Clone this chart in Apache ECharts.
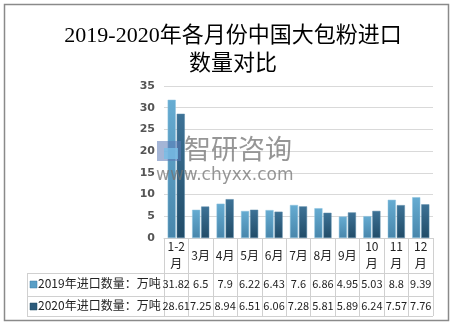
<!DOCTYPE html>
<html><head><meta charset="utf-8">
<script src="https://cdn.jsdelivr.net/npm/echarts@6/dist/echarts.min.js"></script>
<style>html,body{margin:0;padding:0;background:#fff}#c{width:452px;height:326px}</style>
</head><body><div id="c"></div>
<script>
const categories = ['1-2月','3月','4月','5月','6月','7月','8月','9月','10月','11月','12月'];
const catLabels = ['1-2\n月','3月','4月','5月','6月','7月','8月','9月','10\n月','11\n月','12\n月'];
const series2019 = [31.82, 6.5, 7.9, 6.22, 6.43, 7.6, 6.86, 4.95, 5.03, 8.8, 9.39];
const series2020 = [28.61, 7.25, 8.94, 6.51, 6.06, 7.28, 5.81, 5.89, 6.24, 7.57, 7.76];
const seriesNames = ['2019年进口数量：万吨','2020年进口数量：万吨'];
const yTicks = [0,5,10,15,20,25,30,35];
const titleText = '2019-2020年各月份中国大包粉进口\n数量对比';

const FONT = '"Noto Sans CJK SC", "Noto Sans", sans-serif';
const chart = echarts.init(document.getElementById('c'));
const gL = 164, gR = 433, gT = 86, gB = 238;
const c2019 = new echarts.graphic.LinearGradient(0,0,0,1,[{offset:0,color:'#66acd2'},{offset:1,color:'#4886ab'}]);
const c2020 = new echarts.graphic.LinearGradient(0,0,0,1,[{offset:0,color:'#3d7296'},{offset:1,color:'#214c68'}]);
const lineStyle = {stroke:'#d0d0d0', lineWidth:1};
function hline(x1,x2,y){return {type:'line',shape:{x1:x1,y1:y+0.5,x2:x2,y2:y+0.5},style:lineStyle,silent:true};}
function vline(x,y1,y2){return {type:'line',shape:{x1:x+0.5,y1:y1,x2:x+0.5,y2:y2},style:lineStyle,silent:true};}

chart.setOption({
  animation:false,
  title:{text:titleText,left:228,top:17,textAlign:'center',
    textStyle:{fontFamily:'"Liberation Serif", "Noto Sans CJK SC", serif',fontSize:22,fontWeight:'normal',color:'#000',lineHeight:28}},
  grid:{left:gL,right:452-gR,top:gT,bottom:326-gB,containLabel:false},
  xAxis:[
    {type:'category',data:categories,position:'bottom',
      axisLine:{show:true,lineStyle:{color:'#d0d0d0'}},
      axisTick:{show:true,length:78,lineStyle:{color:'#d0d0d0'}},
      axisLabel:{formatter:(v,i)=>catLabels[i],fontFamily:FONT,fontSize:12,color:'#222',lineHeight:17,margin:17,verticalAlign:'middle',interval:0}},
    {type:'category',data:series2019.map(String),position:'bottom',offset:35,
      axisLine:{show:false},axisTick:{show:false},
      axisLabel:{fontFamily:FONT,fontSize:11,color:'#222',margin:11,verticalAlign:'middle',interval:0}},
    {type:'category',data:series2020.map(String),position:'bottom',offset:58,
      axisLine:{show:false},axisTick:{show:false},
      axisLabel:{fontFamily:FONT,fontSize:11,color:'#222',margin:10,verticalAlign:'middle',interval:0}}
  ],
  yAxis:{type:'value',min:0,max:35,interval:5,
    axisLine:{show:false},axisTick:{show:false},
    splitLine:{lineStyle:{color:'#d9d9d9'}},
    axisLabel:{fontFamily:'"DejaVu Sans", sans-serif',fontWeight:'bold',fontSize:11,color:'#555',margin:9}},
  series:[
    {name:seriesNames[0],type:'bar',xAxisIndex:0,data:series2019,barGap:'12%',barCategoryGap:'30%',
      itemStyle:{color:c2019,borderColor:'#8cc3df',borderWidth:0.5}},
    {name:seriesNames[1],type:'bar',xAxisIndex:0,data:series2020,
      itemStyle:{color:c2020,borderColor:'#5a8aa8',borderWidth:0.5}}
  ],
  graphic:[
    {type:'rect',shape:{x:4.5,y:4.5,width:444,height:316},style:{fill:'none',stroke:'#8a8a8a',lineWidth:1.5},silent:true},
    hline(27,gR,273), hline(27,gR,296), hline(27,gR,316),
    vline(27,273,316), vline(gR,gB,316),
    {type:'rect',shape:{x:30,y:281,width:7,height:7},style:{fill:'#5a9fc6',stroke:'#3e7fa5',lineWidth:0.5}},
    {type:'rect',shape:{x:30,y:303,width:7,height:7},style:{fill:'#2c5b7b',stroke:'#1f4860',lineWidth:0.5}},
    {type:'text',left:38,top:277,style:{text:seriesNames[0],font:'12px '+FONT,fill:'#222'}},
    {type:'text',left:38,top:299,style:{text:seriesNames[1],font:'12px '+FONT,fill:'#222'}},
    {type:'text',left:184,top:135,z:100,style:{text:'智研咨询',font:'27px '+FONT,fill:'rgba(115,115,115,0.75)'}},
    {type:'text',left:156,top:167,z:100,style:{text:'www.chyxx.com',font:'17px "DejaVu Sans", sans-serif',fill:'rgba(115,115,115,0.75)'}},
    {type:'rect',z:100,shape:{x:157,y:141,width:24,height:20},style:{fill:'rgba(90,120,180,0.55)'}},
    {type:'rect',z:101,shape:{x:164,y:148,width:14,height:11},style:{fill:'rgba(120,190,230,0.8)'}}
  ]
});
</script></body></html>
